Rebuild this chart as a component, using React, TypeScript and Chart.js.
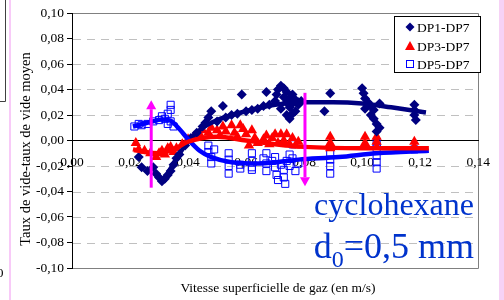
import React, { useEffect, useRef } from "react";
import { Chart, registerables } from "chart.js";

Chart.register(...registerables);

// ---- data ----
const dp1X = [0.023, 0.024, 0.026, 0.028, 0.029, 0.030, 0.031, 0.032, 0.033, 0.034, 0.035, 0.036, 0.037,
  0.039, 0.041, 0.043, 0.045, 0.046, 0.047, 0.048, 0.050, 0.052, 0.053, 0.055, 0.057, 0.0585, 0.060, 0.062, 0.064, 0.066, 0.067, 0.068,
  0.070, 0.0705, 0.071, 0.072, 0.073, 0.073, 0.074, 0.074, 0.075, 0.075, 0.076, 0.076, 0.077, 0.077, 0.078, 0.072, 0.074, 0.075, 0.076, 0.078, 0.079,
  0.087, 0.089, 0.100, 0.1005, 0.101, 0.102, 0.103, 0.104, 0.103, 0.104, 0.105, 0.106, 0.105, 0.106, 0.101,
  0.118, 0.118, 0.118, 0.1185];
const dp1Y = [-0.013, -0.021, -0.024, -0.021, -0.026, -0.029, -0.032, -0.030, -0.027, -0.024, -0.019, -0.014, -0.011,
  -0.004, 0.002, 0.006, 0.011, 0.014, 0.018, 0.023, 0.015, 0.027, 0.018, 0.020, 0.021, 0.036, 0.023, 0.024, 0.025, 0.027, 0.038, 0.028,
  0.031, 0.036, 0.040, 0.043, 0.041, 0.034, 0.038, 0.030, 0.033, 0.026, 0.036, 0.029, 0.032, 0.023, 0.028, 0.025, 0.020, 0.017, 0.021, 0.030, 0.031,
  0.023, 0.037, 0.041, 0.037, 0.033, 0.030, 0.027, 0.024, 0.020, 0.017, 0.013, 0.010, 0.007, 0.029, 0.025,
  0.028, 0.024, 0.020, 0.016];

const dp3X = [0.022, 0.023, 0.025, 0.027, 0.029, 0.030, 0.031, 0.032, 0.033, 0.034, 0.035, 0.036, 0.038,
  0.040, 0.042, 0.044, 0.045, 0.047, 0.048, 0.050, 0.051, 0.052, 0.053, 0.055, 0.056, 0.057, 0.058, 0.059, 0.060,
  0.061, 0.062, 0.063, 0.064, 0.066, 0.067, 0.068, 0.069, 0.070, 0.071, 0.072, 0.073, 0.074, 0.075, 0.076, 0.077, 0.078,
  0.089, 0.089, 0.089, 0.101, 0.101, 0.105, 0.105, 0.105, 0.118, 0.118];
const dp3Y = [-0.002, -0.007, -0.008, -0.010, -0.013, -0.010, -0.008, -0.011, -0.006, -0.005, -0.009, -0.006, -0.003,
  0.001, 0.003, 0.005, 0.008, 0.006, 0.010, 0.008, 0.004, 0.011, 0.007, 0.012, 0.006, 0.003, 0.012, 0.009, 0.005,
  -0.004, 0.008, 0.002, -0.002, 0.001, 0.004, -0.003, 0.002, 0.005, -0.002, 0.005, 0.000, 0.005, -0.003, 0.002, -0.004, -0.001,
  0.003, -0.002, -0.006, 0.003, -0.002, 0.003, -0.001, -0.005, -0.001, -0.005];

const dp5X = [0.0215, 0.023, 0.024, 0.026, 0.028, 0.030, 0.031, 0.032, 0.033, 0.034, 0.034, 0.034, 0.035, 0.033,
  0.047, 0.047, 0.048, 0.048, 0.049,
  0.054, 0.054, 0.054, 0.054, 0.058, 0.058, 0.062, 0.062, 0.062, 0.062, 0.066, 0.067, 0.067, 0.067, 0.069, 0.070, 0.070,
  0.0705, 0.071, 0.072, 0.073, 0.073, 0.0735, 0.074, 0.075, 0.075, 0.076, 0.076, 0.077, 0.078,
  0.089, 0.089, 0.089, 0.089, 0.105, 0.105, 0.105, 0.105, 0.105, 0.118];
const dp5Y = [0.011, 0.013, 0.012, 0.013, 0.015, 0.016, 0.019, 0.017, 0.021, 0.028, 0.024, 0.015, 0.011, 0.013,
  -0.004, -0.009, -0.013, -0.018, -0.007,
  -0.010, -0.015, -0.020, -0.026, -0.019, -0.022, -0.010, -0.016, -0.021, -0.023, -0.014, -0.010, -0.018, -0.024, -0.016, -0.013, -0.021,
  -0.027, -0.031, -0.019, -0.023, -0.029, -0.034, -0.016, -0.011, -0.020, -0.003, -0.014, -0.024, -0.018,
  -0.010, -0.015, -0.020, -0.026, -0.002, -0.006, -0.012, -0.017, -0.022, -0.007];

// trend lines
const trend1X = [0.032, 0.035, 0.038, 0.041, 0.045, 0.050, 0.060, 0.070, 0.080, 0.090, 0.100, 0.110, 0.122];
const trend1Y = [-0.030, -0.018, -0.007, 0.002, 0.010, 0.016, 0.023, 0.028, 0.030, 0.030, 0.029, 0.026, 0.022];
const trend3X = [0.021, 0.025, 0.030, 0.035, 0.040, 0.045, 0.050, 0.060, 0.070, 0.080, 0.100, 0.123];
const trend3Y = [-0.007, -0.009, -0.010, -0.007, -0.001, 0.002, 0.003, 0.000, -0.003, -0.005, -0.006, -0.006];
const trend5X = [0.021, 0.027, 0.031, 0.034, 0.037, 0.040, 0.044, 0.048, 0.055, 0.065, 0.078, 0.092, 0.105, 0.123];
const trend5Y = [0.011, 0.0145, 0.0165, 0.0155, 0.009, 0.001, -0.008, -0.013, -0.017, -0.018, -0.015, -0.013, -0.010, -0.008];

// magenta arrows
const arrowX = [0.0273, 0.0803];
const arrowFrom = [-0.037, 0.0374];
const arrowTo = [0.0316, -0.0358];

const legendLabels = ["DP1-DP7", "DP3-DP7", "DP5-DP7"];
const yTitle = "Taux de vide-taux de vide moyen";
const xTitle = "Vitesse superficielle de gaz (en m/s)";
const note1 = "cyclohexane";

const FONT = "'Liberation Serif', 'Times New Roman', serif";
const NAVY = "#000080";
const RED = "#FF0000";
const BLUE = "#0000FF";
const MAGENTA = "#FF00FF";
const NOTE = "#0033CC";

const fmt = (v: number) => {
  const z = Math.abs(v) < 1e-9 ? 0 : v;
  return z.toFixed(2).replace(".", ",");
};
const pts = (xs: number[], ys: number[]) => xs.map((x, i) => ({ x, y: ys[i] }));

const extras = {
  id: "extras",
  beforeDraw(chart: any) {
    const { ctx, chartArea: a } = chart;
    const y = chart.scales.y;
    const x = chart.scales.x;
    ctx.save();
    ctx.fillStyle = "#F8CAF8";
    ctx.fillRect(9, 0, 2, 300);
    ctx.fillStyle = "#F6D2F6";
    ctx.fillRect(499, 0, 5, 300);
    ctx.strokeStyle = "#404040";
    ctx.lineWidth = 1;
    ctx.beginPath();
    ctx.moveTo(5.5, 0);
    ctx.lineTo(5.5, 101.5);
    ctx.lineTo(0, 101.5);
    ctx.stroke();
    ctx.fillStyle = "#000";
    ctx.font = `13.5px ${FONT}`;
    ctx.textAlign = "right";
    ctx.textBaseline = "alphabetic";
    ctx.fillText("0", 3.5, 277);
    // dashed grid
    ctx.strokeStyle = "#C0C0C0";
    ctx.setLineDash([8, 6]);
    y.ticks.forEach((t: any) => {
      if (Math.abs(t.value) < 1e-9 || Math.abs(Math.abs(t.value) - 0.1) < 1e-9) return;
      const py = Math.round(y.getPixelForValue(t.value)) + 0.5;
      ctx.beginPath();
      ctx.moveTo(a.left + 1, py);
      ctx.lineTo(a.right, py);
      ctx.stroke();
    });
    ctx.setLineDash([]);
    // plot frame
    const top = Math.round(y.getPixelForValue(0.1)) + 0.5;
    const bot = Math.round(y.getPixelForValue(-0.1)) + 0.5;
    const right = Math.round(x.getPixelForValue(0.14)) + 0.5;
    ctx.strokeStyle = "#808080";
    ctx.beginPath();
    ctx.moveTo(a.left, top);
    ctx.lineTo(right, top);
    ctx.lineTo(right, bot);
    ctx.lineTo(a.left, bot);
    ctx.stroke();
    ctx.restore();
  },
  afterDatasetsDraw(chart: any) {
    const { ctx } = chart;
    const y = chart.scales.y;
    const x = chart.scales.x;
    ctx.save();
    // arrows
    ctx.strokeStyle = MAGENTA;
    ctx.fillStyle = MAGENTA;
    ctx.lineWidth = 3;
    arrowX.forEach((xv, i) => {
      const px = x.getPixelForValue(xv);
      const y0 = y.getPixelForValue(arrowFrom[i]);
      const y1 = y.getPixelForValue(arrowTo[i]);
      const dir = Math.sign(y1 - y0);
      const hl = 9;
      const hw = 5;
      ctx.beginPath();
      ctx.moveTo(px, y0);
      ctx.lineTo(px, y1 - dir * hl);
      ctx.stroke();
      ctx.beginPath();
      ctx.moveTo(px, y1);
      ctx.lineTo(px - hw, y1 - dir * hl);
      ctx.lineTo(px + hw, y1 - dir * hl);
      ctx.closePath();
      ctx.fill();
    });
    // legend
    ctx.fillStyle = "#fff";
    ctx.fillRect(394, 16, 87, 57);
    ctx.strokeStyle = "#000";
    ctx.lineWidth = 1;
    ctx.strokeRect(394.5, 16.5, 86, 56);
    const ly = [27, 46, 64];
    const mx = 410;
    ctx.fillStyle = NAVY;
    ctx.beginPath();
    ctx.moveTo(mx, ly[0] - 4.5);
    ctx.lineTo(mx + 4.5, ly[0]);
    ctx.lineTo(mx, ly[0] + 4.5);
    ctx.lineTo(mx - 4.5, ly[0]);
    ctx.closePath();
    ctx.fill();
    ctx.fillStyle = RED;
    ctx.beginPath();
    ctx.moveTo(mx, ly[1] - 5);
    ctx.lineTo(mx + 5, ly[1] + 4);
    ctx.lineTo(mx - 5, ly[1] + 4);
    ctx.closePath();
    ctx.fill();
    ctx.strokeStyle = BLUE;
    ctx.strokeRect(mx - 3.5, ly[2] - 3.5, 7, 7);
    ctx.fillStyle = "#000";
    ctx.font = `13.5px ${FONT}`;
    ctx.textAlign = "left";
    ctx.textBaseline = "middle";
    legendLabels.forEach((l, i) => ctx.fillText(l, 417, ly[i] + 1));
    // notes
    ctx.fillStyle = NOTE;
    ctx.textBaseline = "alphabetic";
    ctx.font = `32px ${FONT}`;
    ctx.textAlign = "right";
    ctx.fillText(note1, 474, 215);
    ctx.textAlign = "left";
    ctx.font = `36px ${FONT}`;
    const tail = "=0,5 mm";
    const wTail = ctx.measureText(tail).width;
    const wD = ctx.measureText("d").width;
    ctx.font = `24px ${FONT}`;
    const wSub = ctx.measureText("0").width;
    const sx = 474 - wTail - wSub - wD;
    ctx.font = `36px ${FONT}`;
    ctx.fillText("d", sx, 258);
    ctx.fillText(tail, sx + wD + wSub, 258);
    ctx.font = `24px ${FONT}`;
    ctx.fillText("0", sx + wD, 267);
    // titles
    ctx.fillStyle = "#000";
    ctx.font = `13.5px ${FONT}`;
    ctx.textAlign = "center";
    ctx.fillText(xTitle, 278, 292);
    ctx.translate(30, 149);
    ctx.rotate(-Math.PI / 2);
    ctx.font = `14.5px ${FONT}`;
    ctx.fillText(yTitle, 0, 0);
    ctx.restore();
  },
};

export default function App() {
  const ref = useRef<HTMLCanvasElement | null>(null);
  useEffect(() => {
    if (!ref.current) return;
    const scatterStyle = (color: string, style: string, r: number, hollow = false) => ({
      showLine: false,
      pointStyle: style,
      pointRadius: r,
      pointBackgroundColor: hollow ? "rgba(0,0,0,0)" : color,
      pointBorderColor: color,
      pointBorderWidth: hollow ? 1 : 0,
      order: 2,
    });
    const trendStyle = (color: string) => ({
      showLine: true,
      borderColor: color,
      borderWidth: 4.5,
      pointRadius: 0,
      tension: 0.4,
      cubicInterpolationMode: "monotone" as const,
      order: 1,
    });
    const chart = new Chart(ref.current, {
      type: "scatter",
      data: {
        datasets: [
          { label: "DP1-DP7", data: pts(dp1X, dp1Y), ...scatterStyle(NAVY, "rectRot", 5) },
          { label: "DP3-DP7", data: pts(dp3X, dp3Y), ...scatterStyle(RED, "triangle", 6) },
          { label: "DP5-DP7", data: pts(dp5X, dp5Y), ...scatterStyle(BLUE, "rect", 5, true) },
          { label: "t3", data: pts(trend3X, trend3Y), ...trendStyle(RED) },
          { label: "t5", data: pts(trend5X, trend5Y), ...trendStyle(BLUE) },
          { label: "t1", data: pts(trend1X, trend1Y), ...trendStyle(NAVY) },
        ] as any,
      },
      options: {
        animation: false,
        responsive: false,
        devicePixelRatio: 1,
        layout: { padding: { left: 0, right: 23, top: 13, bottom: 32 } },
        plugins: { legend: { display: false }, tooltip: { enabled: false } },
        font: { family: FONT },
        scales: {
          x: {
            type: "linear",
            min: 0,
            max: 0.14,
            position: { y: 0 } as any,
            afterFit: (s: any) => {
              s.height = 0;
            },
            border: { color: "#000", width: 1 },
            grid: { drawOnChartArea: false, drawTicks: false },
            ticks: {
              stepSize: 0.02,
              autoSkip: false,
              maxRotation: 0,
              padding: 14,
              color: "#000",
              font: { family: FONT, size: 13.5 },
              callback: (v: any) => fmt(Number(v)),
            },
          },
          y: {
            type: "linear",
            min: -0.1,
            max: 0.1,
            position: "left",
            afterFit: (s: any) => {
              s.width = 72;
            },
            border: { color: "#000", width: 1 },
            grid: { drawOnChartArea: false, drawTicks: true, tickLength: 5, tickColor: "#000" },
            ticks: {
              stepSize: 0.02,
              autoSkip: false,
              padding: 3,
              color: "#000",
              font: { family: FONT, size: 13.5 },
              callback: (v: any) => fmt(Number(v)),
            },
          },
        },
      } as any,
      plugins: [extras],
    });
    return () => chart.destroy();
  }, []);
  return (
    <div style={{ position: "absolute", left: 0, top: 0, width: 504, height: 300, background: "#fff" }}>
      <canvas ref={ref} width={504} height={300} style={{ display: "block", width: 504, height: 300 }} />
    </div>
  );
}
